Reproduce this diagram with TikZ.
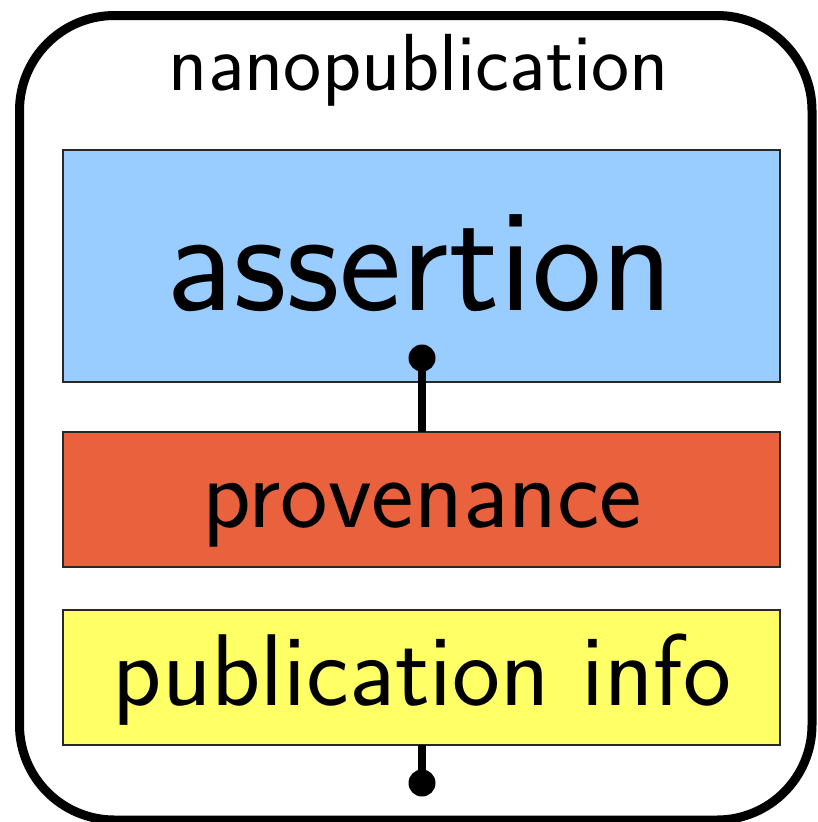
\documentclass[tikz,border=0pt]{standalone}
\definecolor{assertblue}{RGB}{153,204,255}
\definecolor{provred}{RGB}{233,97,61}
\definecolor{infoyellow}{RGB}{255,255,102}
\definecolor{boxedge}{RGB}{40,40,40}
\begin{document}
\begin{tikzpicture}[x=1pt,y=-1pt,
  part/.style={draw=boxedge,line width=2,minimum width=717,minimum height=#1,inner sep=0,outer sep=0},
  lbl/.style={anchor=base,inner sep=0,font=\sffamily},
  dotnode/.style={circle,fill=black,minimum size=27,inner sep=0},
  link/.style={line width=8}]
\useasboundingbox (0,0) rectangle (817,822);
\draw[line width=9,rounded corners=95] (19.5,15.5) rectangle (812,820);
\node[lbl,font=\sffamily\fontsize{81}{96}\selectfont] (title) at (419,90) {nanopublication};
\node[part=232,fill=assertblue] (assertion) at (421.5,266) {};
\node[part=135,fill=provred] (provenance) at (421.5,499.5) {};
\node[part=135,fill=infoyellow] (info) at (421.5,677.5) {};
\node[lbl,font=\sffamily\fontsize{148}{170}\selectfont] (atext) at (420,310) {assertion};
\node[lbl,font=\sffamily\fontsize{101}{120}\selectfont] (ptext) at (422,527) {provenance};
\node[lbl,font=\sffamily\fontsize{102}{120}\selectfont] (itext) at (422,705) {publication info};
\node[dotnode] (d1) at (422,358) {};
\node[dotnode] (d2) at (422,783) {};
\draw[link] (d1.center) -- (d1.center |- provenance.north);
\draw[link] (d2.center) -- (d2.center |- info.south);
\end{tikzpicture}
\end{document}
